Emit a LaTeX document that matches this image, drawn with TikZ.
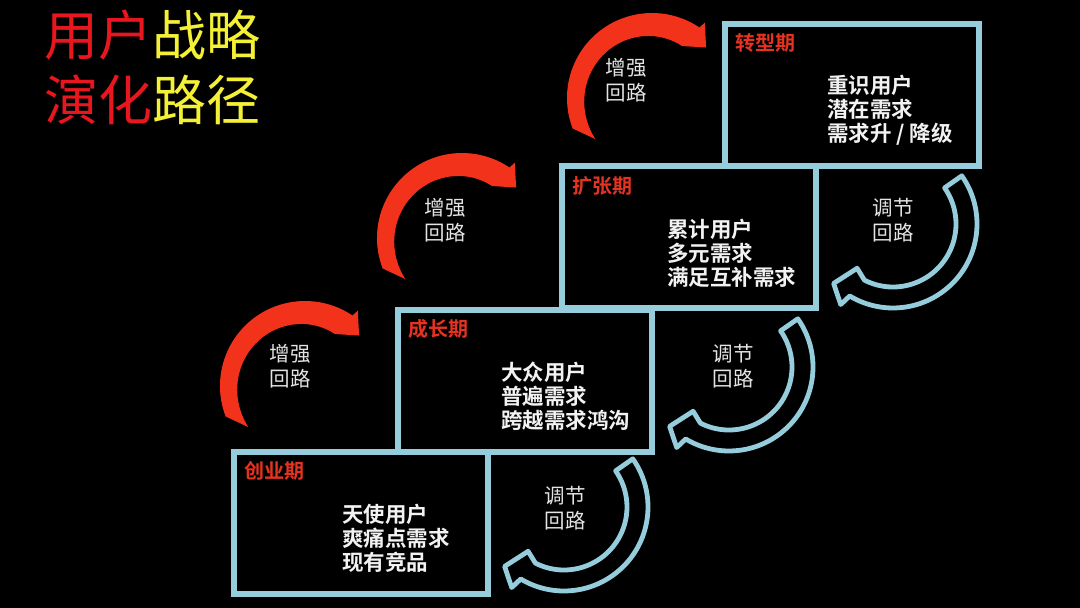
\documentclass[tikz,border=0pt]{standalone}
\usepackage{fontspec}
\setmainfont{Noto Sans CJK SC}[BoldFont={* Bold}]
\definecolor{boxblue}{HTML}{96CDDC}
\definecolor{arrred}{HTML}{F2321A}
\definecolor{tred}{HTML}{E8161E}
\definecolor{tyellow}{HTML}{F4F035}
\definecolor{lblred}{HTML}{E53322}
\definecolor{loopgray}{HTML}{E4E4E4}
\tikzset{
  stagebox/.style={draw=boxblue, line width=6pt, fill=black, minimum width=254pt, minimum height=142pt, anchor=north west, inner sep=0pt, outer sep=0pt},
  stagelabel/.style={text=lblred, font=\fontsize{20}{24}\selectfont\bfseries, anchor=west, inner sep=0pt},
  stagetext/.style={text=white!95!black, font=\fontsize{21.5}{24.2}\selectfont\bfseries, align=left, anchor=west, inner sep=0pt},
  looptext/.style={text=loopgray, font=\fontsize{20.5}{25}\selectfont, align=center, inner sep=0pt},
  titletext/.style={font=\fontsize{54}{65}\selectfont, anchor=base west, inner sep=0pt},
  boostarrow/.style={fill=arrred},
  balancearrow/.style={draw=boxblue, line width=4.8pt, fill=black, line join=round},
}
\newcommand{\drawboost}[1]{%
  \begin{scope}[shift={#1}]
    \fill[boostarrow] (201:85) arc[start angle=201, end angle=56, radius=85]
      -- (55:92) -- (43:74) -- (60:60)
      -- plot[domain=60:216, samples=40] (\x:{60+10*(\x-60)/156}) -- cycle;
  \end{scope}}
\newcommand{\drawbalance}[1]{%
  \begin{scope}[shift={#1}]
    \filldraw[balancearrow] (35:64) -- (35:84) arc[start angle=35, end angle=-121, radius=84]
      -- (237:96) -- (225:84) -- (231:57) -- (243:63)
      arc[start angle=243, end angle=395, radius=63] -- cycle;
  \end{scope}}
\begin{document}
\begin{tikzpicture}[x=1pt, y=1pt]
\fill[black] (0,0) rectangle (1080,608);
\useasboundingbox (0,0) rectangle (1080,608);

% title
\node[titletext] (title1) at (44,552) {\textcolor{tred}{用户}\textcolor{tyellow}{战略}};
\node[titletext] (title2) at (44,487) {\textcolor{tred}{演化}\textcolor{tyellow}{路径}};

% stage boxes
\node[stagebox] (s1) at (234,156) {};
\node[stagebox] (s2) at (398,298) {};
\node[stagebox] (s3) at (562,441.5) {};
\node[stagebox] (s4) at (725,584) {};

% labels
\node[stagelabel] (l1) at (244,137) {创业期};
\node[stagelabel] (l2) at (408,279) {成长期};
\node[stagelabel] (l3) at (572,422.5) {扩张期};
\node[stagelabel] (l4) at (735,565) {转型期};

% contents
\node[stagetext] (t1) at (342,69.5) {天使用户\\爽痛点需求\\现有竞品};
\node[stagetext] (t2) at (501,211.5) {大众用户\\普遍需求\\跨越需求鸿沟};
\node[stagetext] (t3) at (667,355) {累计用户\\多元需求\\满足互补需求};
\node[stagetext] (t4) at (827,498) {重识用户\\潜在需求\\需求升 / 降级};

% reinforcing loops
\drawboost{(305,222)}
\drawboost{(462,370)}
\drawboost{(652,510)}
\node[looptext] (r1) at (290,242) {增强\\回路};
\node[looptext] (r2) at (445,388) {增强\\回路};
\node[looptext] (r3) at (626,528) {增强\\回路};

% balancing loops
\drawbalance{(564,101)}
\drawbalance{(729,241)}
\drawbalance{(893,384)}
\node[looptext] (b1) at (565,99.5) {调节\\回路};
\node[looptext] (b2) at (733,242) {调节\\回路};
\node[looptext] (b3) at (893,388) {调节\\回路};
\end{tikzpicture}
\end{document}
